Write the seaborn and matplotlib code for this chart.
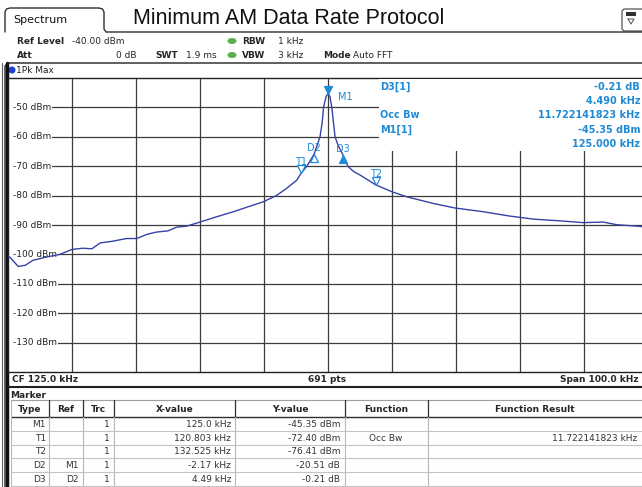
import numpy as np
import pandas as pd
import matplotlib
matplotlib.use("Agg")
import matplotlib.pyplot as plt
import seaborn as sns
from matplotlib.patches import Rectangle, Ellipse, FancyBboxPatch
from matplotlib.transforms import offset_copy

sns.set_style("white")
plt.rcParams["font.family"] = ["DejaVu Sans"]

# trace (kHz / dBm)
freq_khz = [75.0, 75.3, 76.6, 77.7, 78.9, 81.0, 83.1, 85.0, 86.7, 88.1, 89.4, 91.4,
            93.5, 95.1, 96.7, 98.2, 100.0, 101.4, 102.9, 105.0, 107.6, 110.2, 112.8,
            114.9, 117.0, 118.5, 120.1, 120.8, 121.7, 122.83, 123.75, 124.1, 124.3,
            124.7, 125.0, 125.3, 125.6, 126.1, 126.6, 127.32, 128.1, 129.0, 130.0,
            132.5, 135.0, 137.3, 141.5, 144.8, 149.3, 153.2, 157.1, 161.3, 164.9,
            168.0, 170.1, 172.7, 175.0]
level_dbm = [-100.5, -101.0, -104.1, -103.7, -102.0, -100.9, -100.0, -98.3, -97.9,
             -98.1, -96.1, -95.5, -94.6, -94.6, -93.2, -92.4, -92.0, -90.7, -90.4,
             -89.0, -87.2, -85.5, -83.6, -82.1, -79.9, -77.6, -74.8, -72.4, -70.0,
             -65.9, -60.0, -55.0, -50.0, -46.3, -45.35, -46.3, -50.0, -60.0, -63.0,
             -66.1, -70.0, -71.8, -73.0, -76.4, -78.7, -80.4, -82.7, -84.2, -85.5,
             -86.9, -88.0, -88.6, -89.2, -89.0, -89.9, -90.3, -90.7]

# markers
marker_names = ["M1", "T1", "T2", "D2", "D3"]
marker_freq = [125.0, 120.803, 132.525, 122.83, 127.32]
marker_level = [-45.35, -72.40, -76.41, -65.86, -66.07]
marker_shape = ["v", "v", "v", "^", "^"]
marker_filled = [True, False, False, False, True]

# marker info block (top right of the diagram)
info_left = ["D3[1]", "", "Occ Bw", "M1[1]", ""]
info_right = ["-0.21 dB", "4.490 kHz", "11.722141823 kHz", "-45.35 dBm", "125.000 kHz"]

# marker table
table_header = ["Type", "Ref", "Trc", "X-value", "Y-value", "Function", "Function Result"]
table_rows = [
    ["M1", "", "1", "125.0 kHz", "-45.35 dBm", "", ""],
    ["T1", "", "1", "120.803 kHz", "-72.40 dBm", "Occ Bw", "11.722141823 kHz"],
    ["T2", "", "1", "132.525 kHz", "-76.41 dBm", "", ""],
    ["D2", "M1", "1", "-2.17 kHz", "-20.51 dB", "", ""],
    ["D3", "D2", "1", "4.49 kHz", "-0.21 dB", "", ""],
]

W, H = 642, 487
TRACE = "#3543a6"
MARK = "#1f8ad6"
FS = 6.5


def box(x0, y0, x1, y1):
    return [x0 / W, 1 - y1 / H, (x1 - x0) / W, (y1 - y0) / H]


fig = plt.figure(figsize=(W / 100, H / 100), dpi=100)

# background layer in pixel coordinates
bg = fig.add_axes([0, 0, 1, 1], zorder=0)
bg.set_xlim(0, W)
bg.set_ylim(H, 0)
bg.axis("off")

# tab + title
bg.plot([5, 5, 6.5, 10, 99, 102.5, 104, 104, 106, 642],
        [32, 12, 9, 8, 8, 9, 12, 29, 32, 32], color="#303030", lw=1)
bg.text(13, 20, "Spectrum", fontsize=8, va="center", color="#111")
bg.text(133, 19, "Minimum AM Data Rate Protocol", fontsize=15.5,
        family="Liberation Sans", va="center", color="#111")
bg.add_patch(FancyBboxPatch((622, 9), 24, 22, boxstyle="round,pad=0,rounding_size=3",
                            fc="white", ec="#404040", lw=0.8))
bg.add_patch(Rectangle((626, 12), 10, 4, fc="#303030", ec="none"))
bg.plot([628, 634, 631, 628], [19, 19, 24, 19], color="#505050", lw=0.7)

# settings rows
row1, row2 = 41, 55
bg.text(17, row1, "Ref Level", fontsize=FS, weight="bold", va="center")
bg.text(72, row1, "-40.00 dBm", fontsize=FS, va="center")
bg.text(17, row2, "Att", fontsize=FS, weight="bold", va="center")
bg.text(137, row2, "0 dB", fontsize=FS, va="center", ha="right")
bg.text(155, row2, "SWT", fontsize=FS, weight="bold", va="center")
bg.text(186, row2, "1.9 ms", fontsize=FS, va="center")
for yy in (row1, row2):
    bg.add_patch(Ellipse((232, yy), 9, 6, fc="#5aae4e", ec="none"))
bg.text(242, row1, "RBW", fontsize=FS, weight="bold", va="center")
bg.text(278, row1, "1 kHz", fontsize=FS, va="center")
bg.text(242, row2, "VBW", fontsize=FS, weight="bold", va="center")
bg.text(278, row2, "3 kHz", fontsize=FS, va="center")
bg.text(323, row2, "Mode", fontsize=FS, weight="bold", va="center")
bg.text(353, row2, "Auto FFT", fontsize=FS, va="center")

# frame of the diagram area
bg.plot([5, 5, 8, 642], [487, 66, 63, 63], color="#202020", lw=1)
bg.plot([7, 7], [63, 487], color="#101010", lw=2.5)
bg.plot([2, 2], [63, 487], color="#606060", lw=0.8)
bg.add_patch(Ellipse((12, 70), 7, 7, fc="#2040d0", ec="none"))
bg.text(16, 70.5, "1Pk Max", fontsize=FS, va="center", color="#222")

# footer of the diagram
bg.text(12, 380, "CF 125.0 kHz", fontsize=FS, weight="bold", va="center")
bg.text(327, 380, "691 pts", fontsize=FS, weight="bold", va="center", ha="center")
bg.text(638, 380, "Span 100.0 kHz", fontsize=FS, weight="bold", va="center", ha="right")
bg.plot([8, 642], [387, 387], color="#202020", lw=1.5)

# marker table
bg.text(10, 395, "Marker", fontsize=FS, weight="bold", va="center")
col_edges = [11, 49, 83, 114, 235, 345, 428, 642]
head_top, head_bot = 400, 417
row_h = 13.8
bg.plot([11, 642], [head_top, head_top], color="#a0a0a0", lw=0.8)
bg.plot([11, 642], [head_bot, head_bot], color="#303030", lw=1.0)
for i, name in enumerate(table_header):
    cx = (col_edges[i] + col_edges[i + 1]) / 2
    bg.text(cx, 409, name, fontsize=FS, weight="bold", va="center", ha="center")
for xe in col_edges[1:-1]:
    bg.plot([xe, xe], [head_top, head_bot], color="#303030", lw=0.9)
    bg.plot([xe, xe], [head_bot, H], color="#b8b8b8", lw=0.8)
bg.plot([11, 11], [head_top, H], color="#b8b8b8", lw=0.8)
right_pos = [46, 79, 110, 231, 340]
for r, row in enumerate(table_rows):
    top = head_bot + r * row_h
    cy = top + row_h / 2 + 0.5
    bg.plot([11, 642], [top + row_h, top + row_h], color="#c4c4c4", lw=0.8)
    for c in range(5):
        bg.text(right_pos[c], cy, row[c], fontsize=FS, va="center", ha="right", color="#333")
    bg.text(386, cy, row[5], fontsize=FS, va="center", ha="center", color="#333")
    bg.text(637, cy, row[6], fontsize=FS, va="center", ha="right", color="#333")

# the spectrum diagram itself
ax = fig.add_axes(box(8, 78, 648, 372), zorder=1)
ax.set_xlim(75, 175)
ax.set_ylim(-140, -40)
ax.set_xticks(np.arange(85, 175, 10))
ax.set_yticks(np.arange(-130, -40, 10))
ax.tick_params(length=0, labelleft=False, labelbottom=False)
ax.grid(True, color="#3c3c3c", lw=0.9)
for side in ("top", "bottom", "left"):
    ax.spines[side].set_color("#202020")
    ax.spines[side].set_linewidth(1)
ax.spines["right"].set_visible(False)

# white patch left of the level labels, then the labels themselves
for lvl in np.arange(-130, -40, 10):
    ax.add_patch(Rectangle((75, lvl - 1.5), 0.9, 3, fc="white", ec="none", zorder=2.4))
    ax.text(75.8, lvl, f"{lvl} dBm", fontsize=FS, va="center", ha="left", color="#222",
            zorder=2.5, bbox=dict(fc="white", ec="none", pad=0.8))

trace = pd.DataFrame({"freq": freq_khz, "level": level_dbm})
sns.lineplot(data=trace, x="freq", y="level", ax=ax, color=TRACE, lw=1,
             sort=False, zorder=3)
ax.set_xlabel("")
ax.set_ylabel("")

for name, fx, lv, shp, filled in zip(marker_names, marker_freq, marker_level,
                                     marker_shape, marker_filled):
    dy = 3 if shp == "v" else -3
    tr = offset_copy(ax.transData, fig=fig, x=0, y=dy, units="points")
    ax.plot([fx], [lv], marker=shp, ms=6, transform=tr, linestyle="none",
            mfc=MARK if filled else "white", mec=MARK, mew=0.9, zorder=4)
    if name == "M1":
        ax.annotate(name, (fx, lv), xytext=(10, -3), textcoords="offset pixels",
                    fontsize=FS + 0.5, color=MARK, ha="left", va="center")
    else:
        up = 11 if shp == "v" else 6
        ax.annotate(name, (fx, lv), xytext=(0, up), textcoords="offset pixels",
                    fontsize=FS + 0.5, color=MARK, ha="center", va="center")

# marker info block
fg = fig.add_axes([0, 0, 1, 1], zorder=2)
fg.set_xlim(0, W)
fg.set_ylim(H, 0)
fg.axis("off")
fg.patch.set_alpha(0)
fg.add_patch(Rectangle((379, 79), 270, 72, fc="white", ec="none"))
for i, (lt, rt) in enumerate(zip(info_left, info_right)):
    yy = 87 + i * 14.2
    fg.text(380, yy, lt, fontsize=FS + 0.5, weight="bold", color=MARK, va="center")
    fg.text(640, yy, rt, fontsize=FS + 0.5, weight="bold", color=MARK, va="center", ha="right")

fig.savefig("out.png", dpi=100)
